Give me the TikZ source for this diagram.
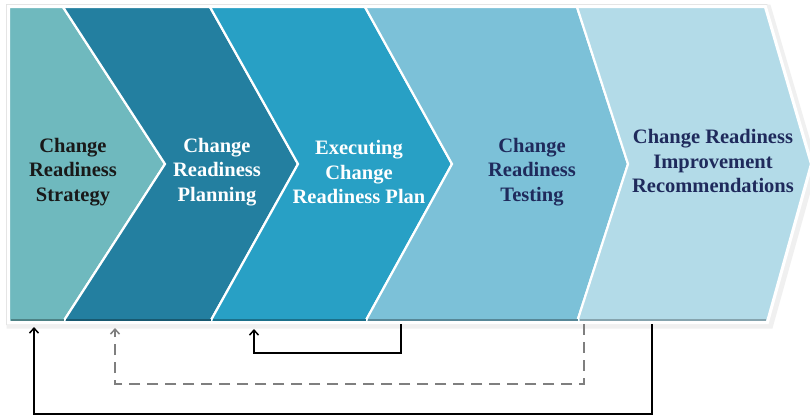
\documentclass[tikz,border=0pt]{standalone}
\usepackage{fontspec}
\setmainfont{Liberation Serif}
\usetikzlibrary{arrows.meta}
\definecolor{cA}{HTML}{6FB9BE}
\definecolor{cB}{HTML}{237FA0}
\definecolor{cC}{HTML}{28A0C5}
\definecolor{cD}{HTML}{7CC1D8}
\definecolor{cE}{HTML}{B3DBE8}
\definecolor{navy}{HTML}{1F2A5C}
\definecolor{dashgray}{HTML}{7F7F7F}
\tikzset{
  chev/.style={draw=white, line width=2.2pt, line join=miter},
  lbl/.style={align=center, font=\fontsize{20.5}{24.5}\selectfont\bfseries, inner sep=0pt},
  fb/.style={draw=black, line width=1.7pt, -{Straight Barb[length=5pt,width=9pt,line width=1.5pt]}},
  fbd/.style={draw=dashgray, line width=1.7pt, dash pattern=on 11pt off 7pt, -{Straight Barb[length=5pt,width=9pt,line width=1.5pt]}},
}
\begin{document}
\begin{tikzpicture}[x=1pt,y=-1pt]
\useasboundingbox (0,0) rectangle (810,416);
\fill[white] (0,0) rectangle (810,416);
% outer soft shadow / frame
\draw[black!12, line width=6pt, line join=miter] (9,7) -- (765,7) -- (811,164) -- (767,322) -- (9,322) -- cycle;
\draw[black!6, line width=9pt, line join=miter] (11,9) -- (767,9) -- (813,166) -- (769,324) -- (11,324) -- cycle;
\draw[white, line width=4pt, line join=miter] (9,7) -- (765,7) -- (811,164) -- (767,322) -- (9,322) -- cycle;
% chevrons
\filldraw[chev, fill=cA] (9,7) -- (63,7) -- (165,164) -- (63,322) -- (9,322) -- cycle;
\filldraw[chev, fill=cB] (63,7) -- (210,7) -- (298,164) -- (210,322) -- (63,322) -- (165,164) -- cycle;
\filldraw[chev, fill=cC] (210,7) -- (365,7) -- (452,164) -- (365,322) -- (210,322) -- (298,164) -- cycle;
\filldraw[chev, fill=cD] (365,7) -- (577,7) -- (628,164) -- (577,322) -- (365,322) -- (452,164) -- cycle;
\filldraw[chev, fill=cE] (577,7) -- (765,7) -- (811,164) -- (767,322) -- (577,322) -- (628,164) -- cycle;
% subtle darker bottom bevel
\draw[cA!70!black, line width=1.4pt] (11,319.8) -- (64,319.8);
\draw[cB!70!black, line width=1.4pt] (66,319.8) -- (211,319.8);
\draw[cC!70!black, line width=1.4pt] (213,319.8) -- (366,319.8);
\draw[cD!70!black, line width=1.4pt] (368,319.8) -- (578,319.8);
\draw[cE!75!black, line width=1.4pt] (580,319.8) -- (766,319.8);
% labels
\node[lbl, text=black!90] (t1) at (73,172) {Change\\Readiness\\Strategy};
\node[lbl, text=white] (t2) at (217,172) {Change\\Readiness\\Planning};
\node[lbl, text=white] (t3) at (359,172) {Executing\\Change\\Readiness Plan};
\node[lbl, text=navy] (t4) at (532,172) {Change\\Readiness\\Testing};
\node[lbl, text=navy] (t5) at (713,161) {Change Readiness\\Improvement\\Recommendations};
% connector anchors
\coordinate (s4) at (401,324);
\coordinate (e2) at (254,329);
\coordinate (s5a) at (584,324);
\coordinate (e1b) at (115,328);
\coordinate (s5b) at (652,324);
\coordinate (e1a) at (34,327);
% feedback connectors
\draw[fb] (s4) -- ++(0,29) -| (e2);
\draw[fbd] (s5a) -- ++(0,60) -| (e1b);
\draw[fb] (s5b) -- ++(0,90) -| (e1a);
\end{tikzpicture}
\end{document}
